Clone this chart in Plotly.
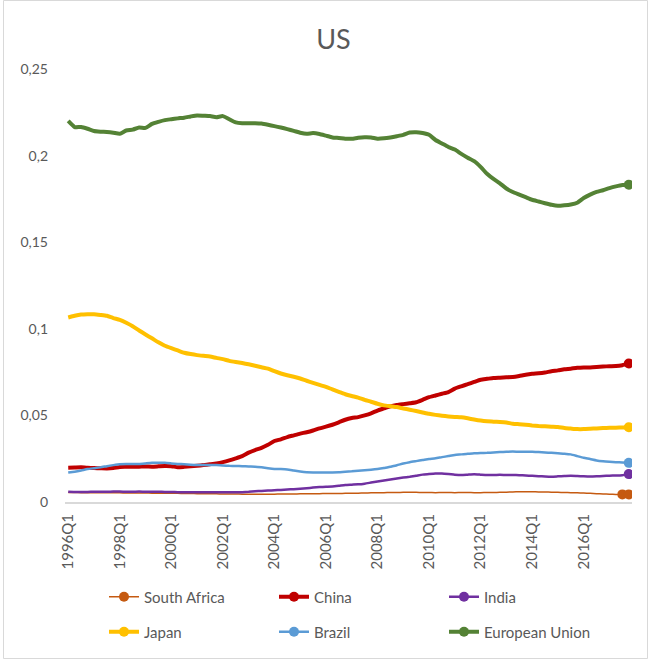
import plotly.graph_objects as go

# ---------------- data ----------------
years = list(range(1996, 2018))
quarters = [f"{y}Q{q}" for y in years for q in range(1, 5)]   # 1996Q1 .. 2017Q4
tick_labels = ["1996Q1", "1998Q1", "2000Q1", "2002Q1", "2004Q1", "2006Q1",
               "2008Q1", "2010Q1", "2012Q1", "2014Q1", "2016Q1"]
y_tick_vals = [0, 0.05, 0.1, 0.15, 0.2, 0.25]
y_tick_text = ["0", "0,05", "0,1", "0,15", "0,2", "0,25"]

south_africa = [
    0.0055, 0.0055, 0.0054, 0.0054, 0.0054, 0.0053, 0.0053, 0.0053, 0.0053, 0.0052, 0.0052,
    0.0052, 0.0052, 0.0051, 0.0051, 0.0051, 0.0050, 0.0050, 0.0049, 0.0049, 0.0048,
    0.0048, 0.0047, 0.0047, 0.0046, 0.0046, 0.0046, 0.0045, 0.0045, 0.0045, 0.0045,
    0.0045, 0.0045, 0.0046, 0.0046, 0.0046, 0.0047, 0.0047, 0.0048, 0.0048, 0.0049,
    0.0049, 0.0049, 0.0050, 0.0050, 0.0051, 0.0052, 0.0053, 0.0053, 0.0054, 0.0055,
    0.0055, 0.0056, 0.0056, 0.0056, 0.0055, 0.0055, 0.0054, 0.0055, 0.0055, 0.0054,
    0.0055, 0.0055, 0.0054, 0.0054, 0.0055, 0.0055, 0.0056, 0.0057, 0.0058, 0.0059,
    0.0059, 0.0059, 0.0058, 0.0058, 0.0057, 0.0056, 0.0055, 0.0054, 0.0053, 0.0052,
    0.0050, 0.0048, 0.0046, 0.0045, 0.0044, 0.0044, 0.0044]

china = [
    0.0198, 0.0199, 0.0200, 0.0198, 0.0196, 0.0195, 0.0194, 0.0196, 0.0202, 0.0203,
    0.0204, 0.0204, 0.0205, 0.0204, 0.0206, 0.0208, 0.0207, 0.0201, 0.0203, 0.0206,
    0.0209, 0.0213, 0.0218, 0.0223, 0.0230, 0.0240, 0.0252, 0.0265, 0.0285, 0.0300,
    0.0312, 0.0330, 0.0352, 0.0362, 0.0375, 0.0385, 0.0395, 0.0403, 0.0413, 0.0425,
    0.0435, 0.0446, 0.0460, 0.0475, 0.0485, 0.0490, 0.0500, 0.0512, 0.0528, 0.0540,
    0.0552, 0.0560, 0.0565, 0.0570, 0.0576, 0.0590, 0.0605, 0.0615, 0.0625, 0.0635,
    0.0655, 0.0668, 0.0680, 0.0693, 0.0706, 0.0711, 0.0716, 0.0718, 0.0720, 0.0722,
    0.0728, 0.0735, 0.0740, 0.0743, 0.0748, 0.0755, 0.0760, 0.0766, 0.0770, 0.0775,
    0.0777, 0.0777, 0.0779, 0.0782, 0.0784, 0.0785, 0.0790, 0.0800]

india = [
    0.0059, 0.0058, 0.0058, 0.0058, 0.0059, 0.0059, 0.0059, 0.0060, 0.0060, 0.0059,
    0.0059, 0.0060, 0.0059, 0.0059, 0.0059, 0.0058, 0.0058, 0.0057, 0.0057, 0.0056,
    0.0056, 0.0056, 0.0056, 0.0056, 0.0056, 0.0056, 0.0056, 0.0057, 0.0059, 0.0062,
    0.0064, 0.0066, 0.0068, 0.0070, 0.0072, 0.0074, 0.0077, 0.0080, 0.0083, 0.0086,
    0.0088, 0.0090, 0.0094, 0.0098, 0.0100, 0.0102, 0.0106, 0.0112, 0.0118, 0.0124,
    0.0130, 0.0136, 0.0141, 0.0146, 0.0152, 0.0158, 0.0161, 0.0164, 0.0165, 0.0162,
    0.0158, 0.0156, 0.0158, 0.0160, 0.0158, 0.0156, 0.0156, 0.0157, 0.0156, 0.0156,
    0.0155, 0.0153, 0.0151, 0.0149, 0.0147, 0.0146, 0.0148, 0.0150, 0.0152, 0.0150,
    0.0148, 0.0147, 0.0148, 0.0150, 0.0152, 0.0153, 0.0155, 0.0161]

japan = [
    0.1065, 0.1075, 0.1082, 0.1084, 0.1084, 0.1080, 0.1075, 0.1062, 0.1052, 0.1035,
    0.1015, 0.0990, 0.0967, 0.0945, 0.0922, 0.0902, 0.0888, 0.0875, 0.0862, 0.0854,
    0.0848, 0.0844, 0.0840, 0.0832, 0.0825, 0.0815, 0.0808, 0.0802, 0.0795, 0.0787,
    0.0778, 0.0770, 0.0755, 0.0742, 0.0732, 0.0723, 0.0713, 0.0700, 0.0688, 0.0676,
    0.0665, 0.0650, 0.0636, 0.0622, 0.0612, 0.0603, 0.0590, 0.0579, 0.0567, 0.0558,
    0.0553, 0.0548, 0.0540, 0.0533, 0.0525, 0.0517, 0.0509, 0.0503, 0.0498, 0.0494,
    0.0491, 0.0489, 0.0483, 0.0476, 0.0470, 0.0466, 0.0464, 0.0462, 0.0459, 0.0452,
    0.0449, 0.0446, 0.0442, 0.0439, 0.0437, 0.0435, 0.0433, 0.0427, 0.0424, 0.0421,
    0.0421, 0.0423, 0.0425, 0.0427, 0.0428, 0.0429, 0.0430, 0.0432]

brazil = [
    0.0170, 0.0175, 0.0182, 0.0190, 0.0195, 0.0200, 0.0207, 0.0213, 0.0218, 0.0219,
    0.0219, 0.0220, 0.0223, 0.0226, 0.0227, 0.0226, 0.0223, 0.0220, 0.0218, 0.0215,
    0.0213, 0.0213, 0.0213, 0.0213, 0.0211, 0.0209, 0.0208, 0.0207, 0.0205, 0.0204,
    0.0200, 0.0195, 0.0191, 0.0190, 0.0188, 0.0182, 0.0176, 0.0172, 0.0171, 0.0171,
    0.0171, 0.0171, 0.0172, 0.0175, 0.0177, 0.0180, 0.0183, 0.0186, 0.0190, 0.0196,
    0.0204, 0.0212, 0.0222, 0.0230, 0.0236, 0.0242, 0.0248, 0.0252, 0.0259, 0.0265,
    0.0271, 0.0275, 0.0279, 0.0281, 0.0283, 0.0284, 0.0286, 0.0288, 0.0290, 0.0291,
    0.0290, 0.0290, 0.0290, 0.0288, 0.0286, 0.0284, 0.0281, 0.0279, 0.0275, 0.0265,
    0.0255, 0.0248, 0.0240, 0.0235, 0.0232, 0.0230, 0.0228, 0.0226]

european_union = [
    0.2200, 0.2165, 0.2165, 0.2155, 0.2142, 0.2138, 0.2136, 0.2132, 0.2126, 0.2145,
    0.2150, 0.2162, 0.2160, 0.2183, 0.2195, 0.2205, 0.2210, 0.2215, 0.2219, 0.2226,
    0.2232, 0.2230, 0.2228, 0.2222, 0.2228, 0.2210, 0.2192, 0.2187, 0.2187, 0.2187,
    0.2185, 0.2178, 0.2170, 0.2162, 0.2153, 0.2143, 0.2132, 0.2126, 0.2130, 0.2125,
    0.2115, 0.2105, 0.2102, 0.2098, 0.2097, 0.2103, 0.2106, 0.2105, 0.2098, 0.2100,
    0.2105, 0.2112, 0.2120, 0.2133, 0.2135, 0.2130, 0.2120, 0.2090, 0.2070, 0.2050,
    0.2035, 0.2010, 0.1988, 0.1968, 0.1935, 0.1895, 0.1865, 0.1840, 0.1810, 0.1790,
    0.1775, 0.1760, 0.1745, 0.1735, 0.1725, 0.1716, 0.1710, 0.1713, 0.1718, 0.1728,
    0.1755, 0.1775, 0.1790, 0.1800, 0.1812, 0.1822, 0.1830, 0.1832]

series = [
    # name, values, color, width, legend, number of end markers
    ("South Africa", south_africa, "#C55A11", 1.5, "legend", 2),
    ("China", china, "#C00000", 4.0, "legend", 1),
    ("India", india, "#7030A0", 2.5, "legend", 1),
    ("Japan", japan, "#FFC000", 4.0, "legend2", 1),
    ("Brazil", brazil, "#5B9BD5", 2.5, "legend2", 1),
    ("European Union", european_union, "#548235", 4.0, "legend2", 1),
]

# ---------------- figure ----------------
W, H = 650, 660
L, R, T, B = 65, 18, 69, 158
pw, ph = W - L - R, H - T - B

def px_to_paper_x(px):
    return (px - L) / pw

def px_to_paper_y(py):
    return (H - B - py) / ph

FONT = "Lato, 'Open Sans', sans-serif"
TXT = "#595959"

fig = go.Figure()
for name, vals, color, width, leg, nend in series:
    fig.add_trace(go.Scatter(
        x=quarters, y=vals, mode="lines", name=name,
        line=dict(color=color, width=width, shape="spline", smoothing=0.5),
        showlegend=False, hoverinfo="skip"))
for name, vals, color, width, leg, nend in series:
    fig.add_trace(go.Scatter(
        x=quarters[-nend:], y=vals[-nend:], mode="lines+markers", name=name,
        line=dict(color=color, width=width),
        marker=dict(color=color, size=10),
        legend=leg, showlegend=True))

legend_common = dict(
    orientation="h", xanchor="left", yanchor="middle",
    font=dict(family=FONT, size=15, color=TXT),
    entrywidth=125, entrywidthmode="pixels",
    bgcolor="rgba(0,0,0,0)", itemclick=False, itemdoubleclick=False,
)

fig.update_layout(
    width=W, height=H,
    margin=dict(l=L, r=R, t=T, b=B),
    paper_bgcolor="white", plot_bgcolor="white",
    font=dict(family=FONT, color=TXT),
    title=dict(text="US", x=333.5 / W, xanchor="center",
               y=1 - 40 / H, yanchor="middle",
               font=dict(family=FONT, size=27, color=TXT)),
    xaxis=dict(type="category", categoryorder="array", categoryarray=quarters,
               range=[-0.5, len(quarters) - 0.5],
               tickmode="array", tickvals=tick_labels, ticktext=tick_labels,
               tickangle=-90, tickfont=dict(family=FONT, size=15, color=TXT),
               showgrid=False, zeroline=False, showline=True,
               linecolor="#D9D9D9", linewidth=2, ticks="",
               ticklabelstandoff=4),
    yaxis=dict(range=[0, 0.25], tickmode="array", tickvals=y_tick_vals,
               ticktext=y_tick_text, tickfont=dict(family=FONT, size=14, color=TXT),
               showgrid=False, zeroline=False, showline=False, ticks="",
               ticklabelstandoff=16),
    legend=dict(x=px_to_paper_x(104), y=px_to_paper_y(597), **legend_common),
    legend2=dict(x=px_to_paper_x(104), y=px_to_paper_y(632), **legend_common),
    shapes=[dict(type="rect", xref="paper", yref="paper",
                 x0=px_to_paper_x(3.5), x1=px_to_paper_x(647.5),
                 y0=px_to_paper_y(658.5), y1=px_to_paper_y(0.5),
                 line=dict(color="#D9D9D9", width=1), fillcolor="rgba(0,0,0,0)",
                 layer="below")],
)

fig.write_html("out.html")
